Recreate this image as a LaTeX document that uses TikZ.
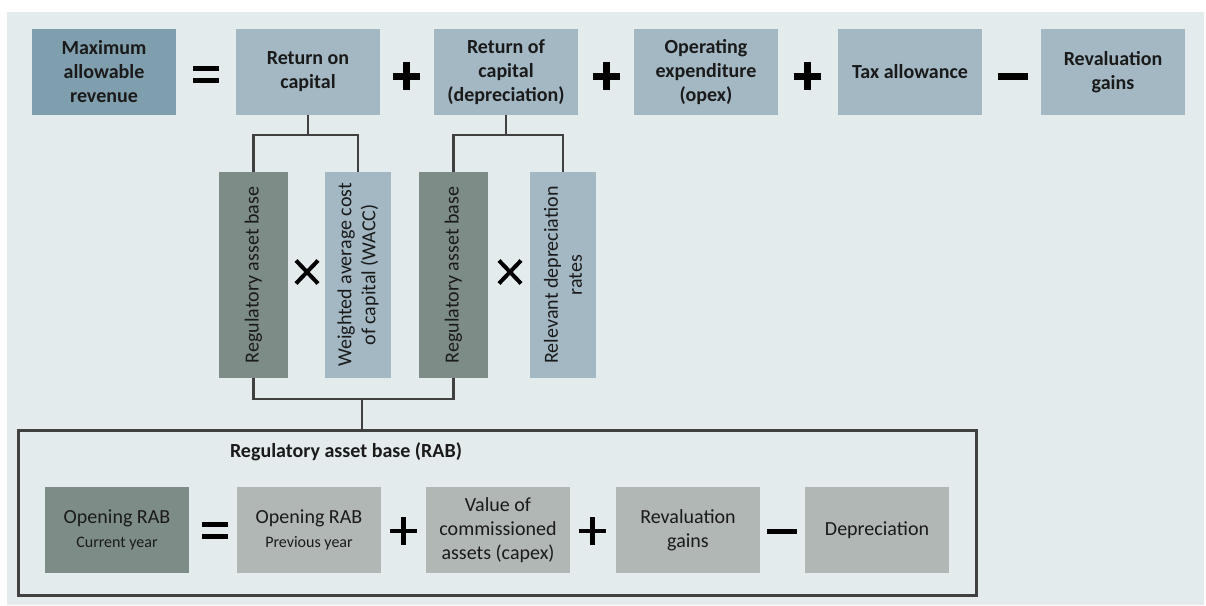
\documentclass[tikz,border=0pt]{standalone}
\usepackage{fontspec}
\setmainfont{Carlito}
\definecolor{bgc}{HTML}{E3EBED}
\definecolor{maxc}{HTML}{7F9FAE}
\definecolor{lightc}{HTML}{A3B8C3}
\definecolor{darkc}{HTML}{7E8C88}
\definecolor{greyc}{HTML}{B0B7B4}
\definecolor{linec}{HTML}{404040}
\definecolor{txtc}{HTML}{1A1A1A}
\tikzset{
  topbox/.style={minimum width=144pt, minimum height=86pt, inner sep=0pt, align=center,
    text=txtc, font=\bfseries\fontsize{20}{24}\selectfont, fill=lightc},
  botbox/.style={minimum width=144pt, minimum height=86pt, inner sep=0pt, align=center,
    text=txtc, font=\fontsize{20}{24}\selectfont, fill=greyc},
  vbox/.style={minimum height=206pt, inner sep=0pt},
  vtext/.style={rotate=90, align=center, text=txtc, inner sep=0pt, font=\fontsize{20}{24}\selectfont},
  conn/.style={draw=linec, line width=2.8pt},
  plusop/.pic={\draw[black] (-13.5,0) -- (13.5,0) (0,-14) -- (0,14);},
  minusop/.pic={\draw[black] (-15,0) -- (15,0);},
  eqop/.pic={\draw[black] (-13,-6) -- (13,-6) (-13,6) -- (13,6);},
  timesop/.pic={\draw[black] (-11,-11.5) -- (11,11.5) (-11,11.5) -- (11,-11.5);},
}
\begin{document}
\begin{tikzpicture}[x=1pt,y=-1pt]
\useasboundingbox (0,0) rectangle (1206,605);
\fill[bgc] (7,12) rectangle (1204,605);

% top row
\node[topbox, fill=maxc] (max) at (104,72) {Maximum\\allowable\\revenue};
\node[topbox] (ron) at (308,72) {Return on\\capital};
\node[topbox] (rof) at (506,72) {Return of\\capital\\(depreciation)};
\node[topbox] (opex) at (706,72) {Operating\\expenditure\\(opex)};
\node[topbox] (tax) at (910,72) {Tax allowance};
\node[topbox] (rev) at (1113,72) {Revaluation\\gains};

\pic[line width=5pt] at (206,74) {eqop};
\pic[line width=7pt] at (406,76) {plusop};
\pic[line width=7pt] at (606,76) {plusop};
\pic[line width=7pt] at (807,76) {plusop};
\pic[line width=7pt] at (1013,76) {minusop};

% vertical boxes
\node[vbox, minimum width=69pt, fill=darkc] (rab1) at (253.5,275) {};
\node[vbox, minimum width=66pt, fill=lightc] (wacc) at (358,275) {};
\node[vbox, minimum width=69pt, fill=darkc] (rab2) at (453.5,275) {};
\node[vbox, minimum width=66pt, fill=lightc] (rel) at (563,275) {};
\node[vtext] (rab1t) at (rab1) {Regulatory asset base};
\node[vtext] (wacct) at (wacc) {Weighted average cost\\of capital (WACC)};
\node[vtext] (rab2t) at (rab2) {Regulatory asset base};
\node[vtext] (relt) at (rel) {Relevant depreciation\\rates};
\pic[line width=4pt] at (307,272) {timesop};
\pic[line width=4pt] at (510,272) {timesop};

% RAB frame
\node[draw=linec, line width=3pt, minimum width=958pt, minimum height=165pt, inner sep=0pt] (rabframe) at (497,512.5) {};
\node[font=\bfseries\fontsize{20}{24}\selectfont, text=txtc, inner sep=0pt] (rabtitle) at (346,452) {Regulatory asset base (RAB)};

\node[botbox, fill=darkc] (oc) at (117,530) {Opening RAB\\{\fontsize{16}{20}\selectfont Current year}};
\node[botbox] (op) at (309,530) {Opening RAB\\{\fontsize{16}{20}\selectfont Previous year}};
\node[botbox] (val) at (498,530) {Value of\\commissioned\\assets (capex)};
\node[botbox] (revg) at (688,530) {Revaluation\\gains};
\node[botbox] (dep) at (877,530) {Depreciation};

\pic[line width=5pt] at (215,530) {eqop};
\pic[line width=4.5pt] at (403.5,531) {plusop};
\pic[line width=4.5pt] at (592.5,531) {plusop};
\pic[line width=5pt] at (782,531) {minusop};

% connectors
\coordinate (j1) at (308,135);
\coordinate (j2) at (506,135);
\coordinate (j3) at (362,399);
\draw[conn] (ron.south) -- (j1);
\draw[conn] (rab1.north) |- (j1) -| (wacc.north);
\draw[conn] (rof.south) -- (j2);
\draw[conn] (rab2.north) |- (j2) -| (rel.north);
\draw[conn] (rab1.south) |- (j3) -| (rab2.south);
\draw[conn] (j3) -- (j3 |- rabframe.north);
\end{tikzpicture}
\end{document}
